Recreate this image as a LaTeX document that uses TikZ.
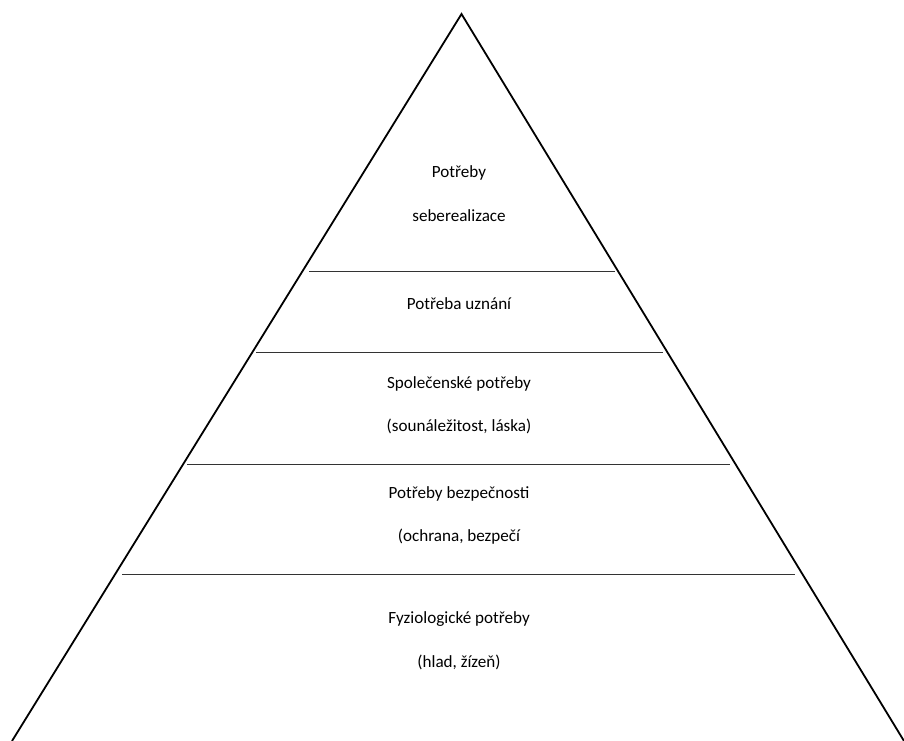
\documentclass[tikz,border=0pt]{standalone}
\usepackage{fontspec}
\setmainfont{Carlito}
\usepackage{tikz}
\usetikzlibrary{calc}
\tikzset{
  edge/.style={draw=black, line width=1.8pt, line join=miter},
  tier/.style={draw=black!80, line width=1pt},
  lbl/.style={anchor=base, inner sep=0pt, font=\fontsize{17.1}{20}\selectfont}
}

\begin{document}
\begin{tikzpicture}[x=1pt, y=-1pt]
\useasboundingbox (0,0) rectangle (904,740);
\coordinate (top) at (461.5,14);
\coordinate (bl) at (12,741);
\coordinate (br) at (904,741);
\draw[edge] (bl) -- (top) -- (br);
% tier borders
\draw[tier] (309,271) -- (615,271);
\draw[tier] (256,352) -- (663,352);
\draw[tier] (187,464) -- (730,464);
\draw[tier] (122,574) -- (795,574);
% labels
\node[lbl] (s1) at (459,177) {Potřeby};
\node[lbl] (s2) at (459,221) {seberealizace};
\node[lbl] (u1) at (459,309) {Potřeba uznání};
\node[lbl] (p1) at (459,388) {Společenské potřeby};
\node[lbl] (p2) at (459,431) {(sounáležitost, láska)};
\node[lbl] (b1) at (459,498) {Potřeby bezpečnosti};
\node[lbl] (b2) at (459,541) {(ochrana, bezpečí};
\node[lbl] (f1) at (459,623) {Fyziologické potřeby};
\node[lbl] (f2) at (459,667) {(hlad, žízeň)};
\end{tikzpicture}
\end{document}
